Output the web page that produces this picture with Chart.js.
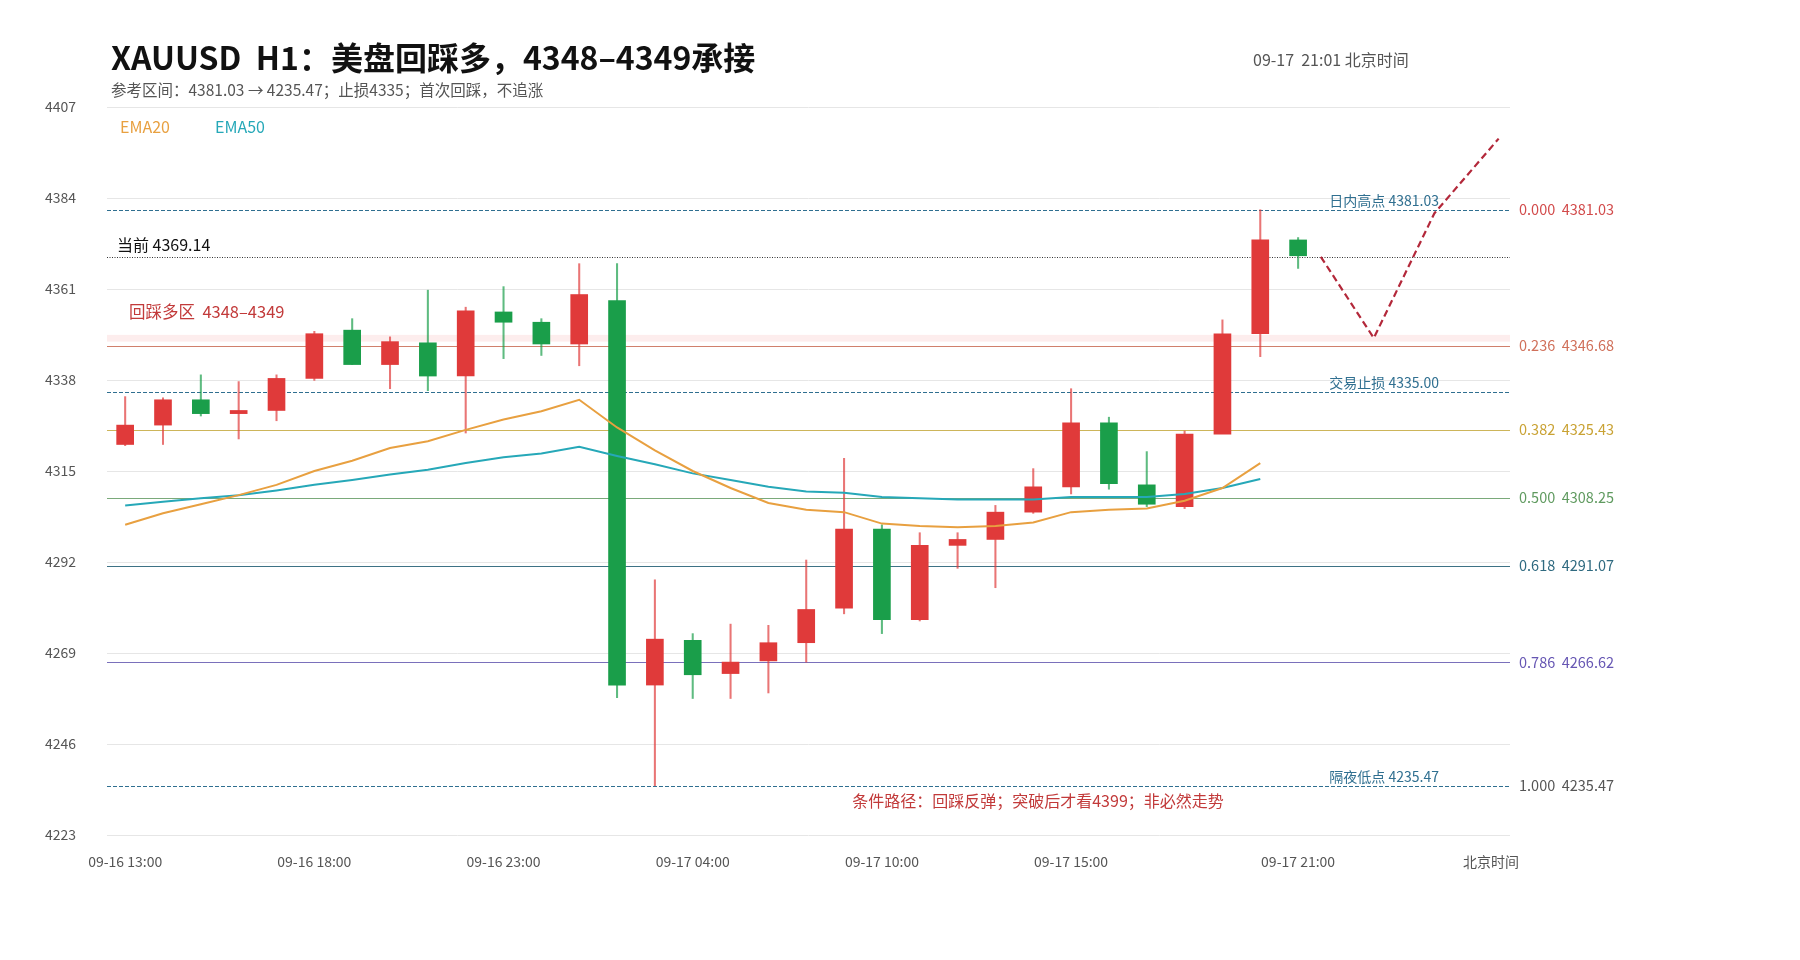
<!DOCTYPE html>
<html>
<head>
<meta charset="utf-8">
<script src="https://cdn.jsdelivr.net/npm/chart.js@4"></script>
<style>
  html, body { margin: 0; padding: 0; background: #fff; }
  #wrap { width: 1800px; height: 960px; }
</style>
</head>
<body>
<div id="wrap"><canvas id="c" width="1800" height="960"></canvas></div>
<script>
// candle data, one per hour (index = slot on the x axis)
const opens  = [4321.7,4326.6,4333.0,4329.5,4330.3,4338.4,4350.6,4341.9,4347.4,4339.0,4355.2,4352.6,4347.1,4358.1,4260.9,4272.2,4263.8,4267.0,4271.6,4280.3,4300.3,4277.4,4296.2,4297.7,4304.6,4311.0,4327.2,4311.5,4306.0,4324.3,4349.7,4373.4];
const closes = [4326.6,4333.0,4329.5,4330.3,4338.4,4349.7,4341.9,4347.7,4339.0,4355.5,4352.6,4347.1,4359.6,4260.9,4272.5,4263.5,4266.7,4271.6,4280.0,4300.3,4277.4,4296.2,4297.7,4304.6,4311.0,4327.2,4311.8,4306.6,4324.3,4349.7,4373.4,4369.4];
const highs  = [4333.8,4333.5,4339.3,4337.6,4339.3,4350.3,4353.5,4348.9,4360.7,4356.4,4361.6,4353.5,4367.4,4367.4,4287.5,4273.9,4276.3,4276.0,4292.5,4318.2,4301.4,4299.4,4299.4,4306.3,4315.6,4335.8,4328.6,4319.9,4325.1,4353.2,4381.03,4374.0];
const lows   = [4321.4,4321.7,4328.9,4323.1,4327.7,4337.9,4341.9,4335.8,4335.3,4324.6,4343.4,4344.2,4341.6,4257.7,4235.47,4257.5,4257.5,4258.9,4266.7,4278.9,4273.9,4277.1,4290.4,4285.5,4304.3,4309.2,4310.4,4306.0,4305.5,4343.9,4343.9,4366.2];
const ema20  = [4301.4,4304.3,4306.6,4308.9,4311.5,4315.0,4317.6,4320.8,4322.5,4325.4,4328.0,4330.1,4333.0,4326.0,4320.2,4315.0,4310.7,4306.9,4305.2,4304.6,4301.7,4301.1,4300.8,4301.1,4302.0,4304.6,4305.2,4305.5,4307.5,4310.7,4317.0];
const ema50  = [4306.3,4307.2,4308.1,4308.9,4310.1,4311.5,4312.7,4314.1,4315.3,4317.0,4318.5,4319.4,4321.1,4318.8,4316.7,4314.4,4312.7,4311.0,4309.8,4309.5,4308.4,4308.1,4307.8,4307.8,4307.8,4308.4,4308.4,4308.4,4309.2,4310.7,4313.0];
// conditional path after the last candle
const pathX = [31.6, 33.0, 34.6, 36.3];
const pathY = [4369.14, 4348.6, 4380.1, 4399];
// x tick positions and labels
const tickPos    = [0, 5, 10, 15, 20, 25, 31, 36.1];
const tickLabels = ['09-16 13:00','09-16 18:00','09-16 23:00','09-17 04:00','09-17 10:00','09-17 15:00','09-17 21:00','北京时间'];
const yTicks = [4223, 4246, 4269, 4292, 4315, 4338, 4361, 4384, 4407];
// fib levels
const fibRatios = ['0.000','0.236','0.382','0.500','0.618','0.786','1.000'];
const fibPrices = [4381.03, 4346.68, 4325.43, 4308.25, 4291.07, 4266.62, 4235.47];
const fibColors = ['#d24a4a','#d0705a','#c9a233','#5f9a5f','#2f6a80','#6656b3','#555555'];
const fibLineColors = ['#2f6f90','#d0806c','#cdb55a','#7aaa7a','#3d7285','#7a70bb','#2f6f90'];
const fibDashed = [true, false, false, false, false, false, true];
const CURRENT = 4369.14;
const STOP = 4335.00;
const ZONE = [4347.7, 4349.4];

const UP = '#e03a3a', DOWN = '#1a9e4a';
const FONT = '"Noto Sans CJK SC", "Noto Sans", sans-serif';
const isUp = i => closes[i] >= opens[i];

const overlay = {
  id: 'overlay',
  beforeDatasetsDraw(chart) {
    const { ctx, chartArea: a, scales: { y } } = chart;
    ctx.save();
    // zone band
    ctx.fillStyle = 'rgba(235,110,110,0.12)';
    ctx.fillRect(a.left, y.getPixelForValue(ZONE[1]), a.right - a.left, y.getPixelForValue(ZONE[0]) - y.getPixelForValue(ZONE[1]));
    const hline = (v, color, dash, w) => {
      const py = Math.round(y.getPixelForValue(v)) + 0.5;
      ctx.strokeStyle = color; ctx.lineWidth = w || 1.2; ctx.setLineDash(dash || []);
      ctx.beginPath(); ctx.moveTo(a.left, py); ctx.lineTo(a.right, py); ctx.stroke();
    };
    fibPrices.forEach((p, i) => hline(p, fibLineColors[i], fibDashed[i] ? [4, 2] : []));
    hline(STOP, '#2f6f90', [4, 2]);
    hline(CURRENT, '#333', [1, 1.5], 1);
    ctx.setLineDash([]);
    ctx.restore();
  },
  afterDraw(chart) {
    const { ctx, chartArea: a, scales: { y } } = chart;
    ctx.save();
    ctx.textBaseline = 'middle';
    // title
    ctx.fillStyle = '#111';
    ctx.font = 'bold 32px ' + FONT;
    ctx.fillText('XAUUSD  H1：美盘回踩多，4348–4349承接', 111, 58);
    ctx.fillStyle = '#555';
    ctx.font = '15.5px ' + FONT;
    ctx.fillText('参考区间：4381.03 → 4235.47；止损4335；首次回踩，不追涨', 111, 90);
    ctx.font = '16px ' + FONT;
    ctx.fillText('09-17  21:01 北京时间', 1253, 60);
    // legend
    ctx.font = '16px ' + FONT;
    ctx.fillStyle = '#e8a040'; ctx.fillText('EMA20', 120, 127);
    ctx.fillStyle = '#26a8b8'; ctx.fillText('EMA50', 215, 127);
    // fib labels on the right
    ctx.font = '14.5px ' + FONT;
    fibPrices.forEach((p, i) => {
      ctx.fillStyle = fibColors[i];
      ctx.fillText(fibRatios[i] + '  ' + p.toFixed(2), a.right + 9, y.getPixelForValue(p));
    });
    // line labels
    ctx.textAlign = 'right';
    ctx.textBaseline = 'bottom';
    ctx.font = '14px ' + FONT;
    ctx.fillStyle = '#2f6f90';
    ctx.fillText('日内高点 4381.03', 1439, y.getPixelForValue(4381.03) - 2);
    ctx.fillText('交易止损 4335.00', 1439, y.getPixelForValue(STOP) - 2);
    ctx.fillText('隔夜低点 4235.47', 1439, y.getPixelForValue(4235.47) - 2);
    ctx.textAlign = 'left';
    ctx.fillStyle = '#111';
    ctx.font = '16px ' + FONT;
    ctx.fillText('当前 4369.14', a.left + 10, y.getPixelForValue(CURRENT) - 4);
    ctx.textBaseline = 'middle';
    ctx.fillStyle = '#c23a3a';
    ctx.font = '16.5px ' + FONT;
    ctx.fillText('回踩多区  4348–4349', 129, y.getPixelForValue(4355.2));
    ctx.textAlign = 'center';
    ctx.font = '16px ' + FONT;
    ctx.fillText('条件路径：回踩反弹；突破后才看4399；非必然走势', 1038, y.getPixelForValue(4235.47) + 15);
    ctx.restore();
  }
};

const idx = opens.map((_, i) => i);

new Chart(document.getElementById('c'), {
  type: 'bar',
  data: {
    datasets: [
      {
        type: 'line', data: ema20.map((v, i) => ({ x: i, y: v })),
        borderColor: '#e8a040', borderWidth: 2, pointRadius: 0, tension: 0, order: 1
      },
      {
        type: 'line', data: ema50.map((v, i) => ({ x: i, y: v })),
        borderColor: '#26a8b8', borderWidth: 2, pointRadius: 0, tension: 0, order: 1
      },
      {
        type: 'line', data: pathX.map((v, i) => ({ x: v, y: pathY[i] })),
        borderColor: '#b3283a', borderWidth: 2.2, borderDash: [7, 4], pointRadius: 0, tension: 0, order: 0
      },
      {
        data: idx.map(i => ({ x: i, y: [lows[i], highs[i]] })),
        backgroundColor: idx.map(i => isUp(i) ? 'rgba(224,58,58,0.7)' : 'rgba(26,158,74,0.7)'),
        barThickness: 1.4, grouped: false, order: 3
      },
      {
        data: idx.map(i => ({ x: i, y: [opens[i], closes[i]] })),
        backgroundColor: idx.map(i => isUp(i) ? UP : DOWN),
        barThickness: 17, grouped: false, order: 2, minBarLength: 2
      }
    ]
  },
  options: {
    responsive: false,
    animation: false,
    layout: { padding: { left: 45, right: 290, top: 107, bottom: 75 } },
    plugins: { legend: { display: false }, tooltip: { enabled: false } },
    scales: {
      x: {
        type: 'linear', min: -0.48, max: 36.6, offset: false,
        grid: { display: false },
        border: { display: false },
        afterBuildTicks: s => { s.ticks = tickPos.map(v => ({ value: v })); },
        afterFit: s => { s.height = 50; },
        ticks: {
          autoSkip: false, maxRotation: 0, color: '#555', padding: 10,
          font: { family: FONT, size: 14 },
          callback: v => tickLabels[tickPos.indexOf(v)]
        }
      },
      y: {
        min: 4223, max: 4407,
        afterBuildTicks: s => { s.ticks = yTicks.map(v => ({ value: v })); },
        afterFit: s => { s.width = 62; },
        grid: { color: '#e6e6e6', drawTicks: false },
        border: { display: false },
        ticks: { color: '#555', crossAlign: 'far', padding: 4, font: { family: FONT, size: 14 }, callback: v => String(v) }
      }
    }
  },
  plugins: [overlay]
});
</script>
</body>
</html>
